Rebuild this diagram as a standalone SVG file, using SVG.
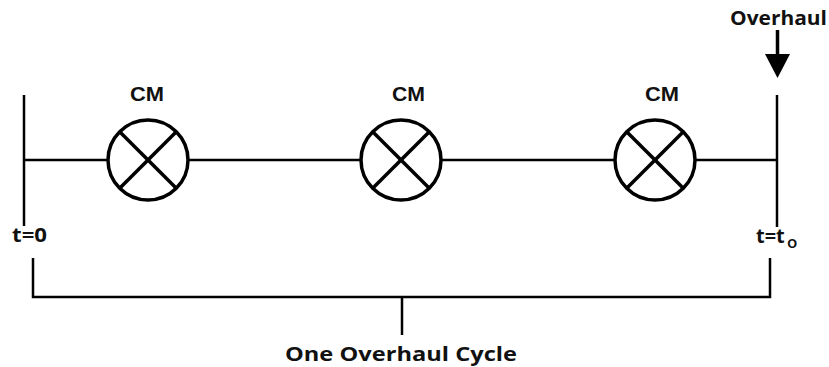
<svg xmlns="http://www.w3.org/2000/svg" width="829" height="367" viewBox="0 0 829 367">
<style>
.ln{stroke:#000;stroke-width:2.5;fill:none}
.cm{stroke:#000;stroke-width:3.5;fill:#fff}
.x{stroke:#000;stroke-width:3.5}
.t{font-family:"Open Sans","DejaVu Sans",sans-serif;font-weight:700;font-size:20px;fill:#111}
.cml{font-family:"Liberation Sans",Arial,sans-serif;font-weight:700;font-size:20px;fill:#111}
</style>
<defs>
<g id="cmsym">
<circle r="40" class="cm"/>
<line x1="-28.3" y1="-28.3" x2="28.3" y2="28.3" class="x"/>
<line x1="-28.3" y1="28.3" x2="28.3" y2="-28.3" class="x"/>
</g>
</defs>
<g id="connectors">
<line x1="24" y1="160" x2="777" y2="160" class="ln"/>
<line x1="24" y1="95" x2="24" y2="226" class="ln"/>
<line x1="777" y1="95" x2="777" y2="227" class="ln"/>
<path d="M33,258 V297 H770 V258" class="ln"/>
<line x1="402" y1="297" x2="402" y2="335" class="ln"/>
<path d="M777.5,30 V56" stroke="#000" stroke-width="3.5"/>
<path d="M765,54 L790,54 L777.5,78 Z" fill="#000"/>
</g>
<g id="cm1"><use href="#cmsym" x="148" y="160"/><text x="130" y="101" class="cml" textLength="34" lengthAdjust="spacingAndGlyphs">CM</text></g>
<g id="cm2"><use href="#cmsym" x="401" y="160"/><text x="392" y="101" class="cml" textLength="33" lengthAdjust="spacingAndGlyphs">CM</text></g>
<g id="cm3"><use href="#cmsym" x="655" y="160"/><text x="645" y="101" class="cml" textLength="34" lengthAdjust="spacingAndGlyphs">CM</text></g>
<g id="overhaul"><text x="730" y="25" class="t" textLength="97" lengthAdjust="spacingAndGlyphs">Overhaul</text></g>
<g id="t0"><text x="12" y="242" class="t" textLength="35" lengthAdjust="spacingAndGlyphs">t=0</text></g>
<g id="tto"><text x="756" y="243" class="t">t=t<tspan x="787" y="248" font-size="17" font-weight="600">o</tspan></text></g>
<g id="cycle"><text x="285" y="361" class="t" font-size="22" textLength="232" lengthAdjust="spacingAndGlyphs">One Overhaul Cycle</text></g>
</svg>
